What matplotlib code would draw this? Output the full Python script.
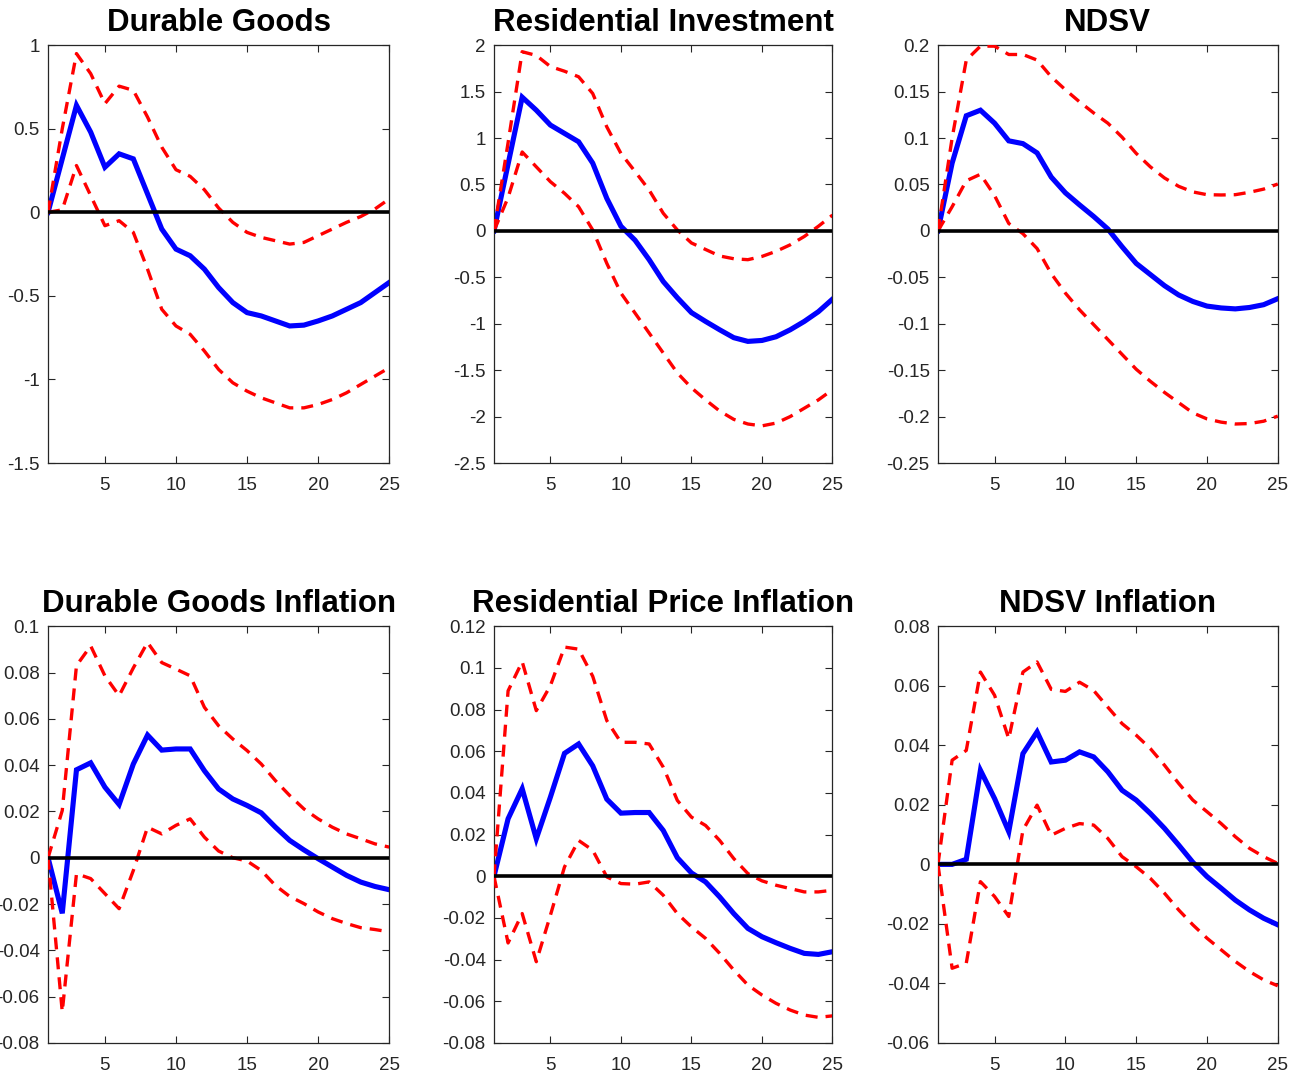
import matplotlib
matplotlib.use("Agg")
import matplotlib.pyplot as plt
from matplotlib.ticker import FuncFormatter
import numpy as np

plt.rcParams['font.family'] = ['Liberation Sans', 'DejaVu Sans']

# horizon
h = np.arange(1, 26)

# Durable Goods
dg = [0, 0.32, 0.64, 0.48, 0.27, 0.35, 0.32, 0.11, -0.10, -0.22, -0.26, -0.34, -0.45,
      -0.54, -0.60, -0.62, -0.65, -0.68, -0.675, -0.65, -0.62, -0.58, -0.54, -0.48, -0.42]
dg_hi = [0, 0.50, 0.95, 0.83, 0.65, 0.755, 0.73, 0.57, 0.39, 0.255, 0.215, 0.135, 0.026,
         -0.06, -0.12, -0.15, -0.17, -0.19, -0.18, -0.14, -0.10, -0.06, -0.025, 0.02, 0.08]
dg_lo = [0, 0.015, 0.28, 0.10, -0.08, -0.05, -0.12, -0.34, -0.58, -0.68, -0.73, -0.83, -0.94,
         -1.02, -1.07, -1.11, -1.14, -1.17, -1.17, -1.15, -1.12, -1.08, -1.03, -0.98, -0.93]

# Residential Investment
ri = [0, 0.72, 1.44, 1.30, 1.14, 1.05, 0.96, 0.73, 0.35, 0.05, -0.10, -0.31, -0.545,
      -0.72, -0.88, -0.975, -1.065, -1.15, -1.19, -1.18, -1.14, -1.065, -0.975, -0.87, -0.735]
ri_hi = [0, 0.95, 1.93, 1.89, 1.77, 1.72, 1.66, 1.48, 1.12, 0.835, 0.64, 0.44, 0.19,
         0.01, -0.13, -0.20, -0.27, -0.30, -0.31, -0.275, -0.22, -0.15, -0.06, 0.05, 0.17]
ri_lo = [0, 0.36, 0.85, 0.69, 0.53, 0.405, 0.26, 0.01, -0.35, -0.67, -0.885, -1.10, -1.315,
         -1.53, -1.69, -1.82, -1.94, -2.03, -2.08, -2.10, -2.07, -2.00, -1.91, -1.82, -1.71]

# NDSV
nd = [0, 0.073, 0.124, 0.130, 0.116, 0.097, 0.094, 0.084, 0.058, 0.041, 0.028, 0.0155, 0.002,
      -0.017, -0.035, -0.047, -0.059, -0.069, -0.076, -0.081, -0.083, -0.084, -0.0825, -0.0795, -0.073]
nd_hi = [0, 0.10, 0.184, 0.199, 0.199, 0.19, 0.19, 0.184, 0.166, 0.152, 0.139, 0.127, 0.116,
         0.101, 0.0835, 0.069, 0.057, 0.048, 0.042, 0.039, 0.0387, 0.039, 0.0416, 0.045, 0.0505]
nd_lo = [0, 0.026, 0.054, 0.061, 0.038, 0.008, -0.003, -0.019, -0.046, -0.067, -0.085, -0.101, -0.117,
         -0.133, -0.149, -0.162, -0.174, -0.185, -0.196, -0.2025, -0.206, -0.208, -0.2075, -0.205, -0.1995]

# Durable Goods Inflation
dgi = [0, -0.024, 0.038, 0.041, 0.0305, 0.023, 0.0405, 0.053, 0.0465, 0.047, 0.047, 0.0376, 0.0297,
       0.0254, 0.0226, 0.0194, 0.0132, 0.0075, 0.0034, -0.0004, -0.004, -0.0076, -0.0105, -0.0124, -0.0138]
dgi_hi = [0, 0.0204, 0.083, 0.0915, 0.0786, 0.070, 0.082, 0.093, 0.0843, 0.0815, 0.0786, 0.065, 0.057,
          0.0513, 0.0463, 0.0405, 0.0333, 0.0269, 0.0211, 0.0168, 0.0132, 0.0103, 0.0082, 0.006, 0.0046]
dgi_lo = [0, -0.0665, -0.0069, -0.009, -0.0155, -0.022, -0.0055, 0.0132, 0.0103, 0.014, 0.0168, 0.0089, 0.0029,
          0.0, -0.0014, -0.0055, -0.012, -0.0167, -0.0198, -0.0234, -0.0263, -0.0284, -0.0302, -0.031, -0.032]

# Residential Price Inflation
rpi = [0, 0.0276, 0.042, 0.018, 0.038, 0.059, 0.0635, 0.053, 0.037, 0.0303, 0.0306, 0.0306, 0.022,
       0.0089, 0.0016, -0.0027, -0.0099, -0.0179, -0.025, -0.029, -0.0319, -0.0346, -0.037, -0.0375, -0.0362]
rpi_hi = [0, 0.089, 0.103, 0.0795, 0.0915, 0.110, 0.109, 0.096, 0.0747, 0.0643, 0.0643, 0.0635, 0.0524,
          0.0364, 0.0284, 0.0244, 0.0172, 0.0085, 0.0013, -0.0022, -0.0043, -0.0059, -0.0075, -0.0075, -0.0067]
rpi_lo = [0, -0.032, -0.0179, -0.041, -0.0187, 0.0045, 0.0172, 0.0125, -0.0003, -0.0035, -0.0038, -0.0027, -0.0091,
          -0.0179, -0.0243, -0.0298, -0.037, -0.045, -0.0522, -0.057, -0.061, -0.0642, -0.0666, -0.0677, -0.067]

# NDSV Inflation
ndi = [0, 0.0, 0.0017, 0.0316, 0.0221, 0.011, 0.0372, 0.0445, 0.0344, 0.035, 0.0378, 0.0361, 0.0311,
       0.0249, 0.0216, 0.0171, 0.0121, 0.0065, 0.0007, -0.0041, -0.008, -0.012, -0.0153, -0.0181, -0.0203]
ndi_hi = [0, 0.035, 0.0383, 0.0646, 0.0568, 0.0422, 0.0646, 0.068, 0.0588, 0.0581, 0.0612, 0.0584, 0.0528,
          0.0473, 0.0434, 0.0389, 0.0333, 0.0272, 0.0216, 0.0177, 0.0137, 0.0093, 0.0054, 0.0026, 0.0003]
ndi_lo = [0, -0.0349, -0.0332, -0.0058, -0.0108, -0.0175, 0.0115, 0.0199, 0.0098, 0.0121, 0.0137, 0.0132, 0.0087,
          0.0026, -0.0008, -0.0047, -0.0097, -0.0153, -0.0203, -0.0248, -0.0287, -0.0326, -0.036, -0.0388, -0.0408]

titles = ["Durable Goods", "Residential Investment", "NDSV",
          "Durable Goods Inflation", "Residential Price Inflation", "NDSV Inflation"]
series = [(dg, dg_hi, dg_lo), (ri, ri_hi, ri_lo), (nd, nd_hi, nd_lo),
          (dgi, dgi_hi, dgi_lo), (rpi, rpi_hi, rpi_lo), (ndi, ndi_hi, ndi_lo)]
ylims = [(-1.5, 1), (-2.5, 2), (-0.25, 0.2), (-0.08, 0.1), (-0.08, 0.12), (-0.06, 0.08)]
ysteps = [0.5, 0.5, 0.05, 0.02, 0.02, 0.02]
xticks = [5, 10, 15, 20, 25]

fig = plt.figure(figsize=(13.02, 10.74), dpi=100)

lefts = [0.0369, 0.3794, 0.7204]
widths = [0.262, 0.260, 0.261]
bottoms = [0.5689, 0.0289]
heights = [0.389, 0.388]

fmt = FuncFormatter(lambda v, p: "%g" % round(v, 4))
edge = "#262626"

for i in range(6):
    r, c = divmod(i, 3)
    ax = fig.add_axes([lefts[c], bottoms[r], widths[c], heights[r]])
    mid, hi, lo = series[i]
    ax.plot(h, mid, color="blue", lw=3.7, solid_joinstyle="miter", zorder=2)
    ax.plot(h, hi, color="red", lw=2.4, dashes=(3.6, 2.4), zorder=3)
    ax.plot(h, lo, color="red", lw=2.4, dashes=(3.6, 2.4), zorder=3)
    ax.plot(h, np.zeros(len(h)), color="black", lw=2.6, zorder=4)

    ax.set_xlim(1, 25)
    ax.set_ylim(*ylims[i])
    n = int(round((ylims[i][1] - ylims[i][0]) / ysteps[i]))
    ax.set_yticks(np.round(np.linspace(ylims[i][0], ylims[i][1], n + 1), 4))
    ax.set_xticks(xticks)
    ax.yaxis.set_major_formatter(fmt)
    ax.tick_params(direction="in", top=True, right=True, length=5, width=0.8,
                   color=edge, labelsize=13.5, labelcolor=edge)
    ax.tick_params(axis="y", pad=6)
    ax.tick_params(axis="x", pad=10)
    for s in ax.spines.values():
        s.set_color(edge)
        s.set_linewidth(0.9)
    ax.set_title(titles[i], fontsize=22.5, fontweight="bold", pad=10.5)

plt.savefig("out.png", dpi=100)
